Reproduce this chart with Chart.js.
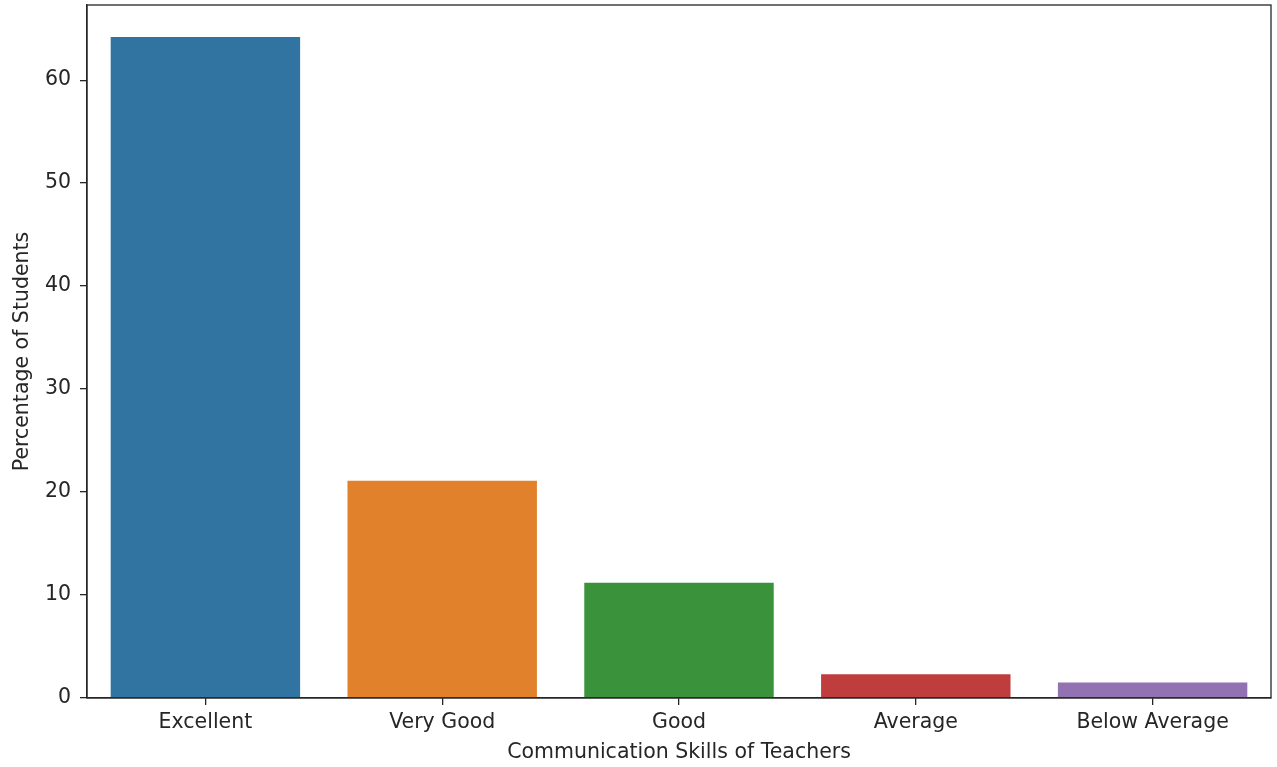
<!DOCTYPE html>
<html>
<head>
<meta charset="utf-8">
<script src="https://cdn.jsdelivr.net/npm/chart.js@4"></script>
<style>
  html, body { margin: 0; padding: 0; background: #fff; }
  #wrap { width: 1277px; height: 767px; position: relative; }
</style>
</head>
<body>
<div id="wrap"><canvas id="c"></canvas></div>
<script>
// communication skills survey -- percentage of students per rating
var categories = ['Excellent', 'Very Good', 'Good', 'Average', 'Below Average'];
var percentages = [64.2, 21.1, 11.2, 2.3, 1.5];
var barColors = ['#3274a1', '#e1812c', '#3a923a', '#c03d3e', '#9372b2'];
var yTicks = [0, 10, 20, 30, 40, 50, 60];

var FONT = "'DejaVu Sans', sans-serif";
var SIZE = 20.5;
var INK = '#262626';

// matplotlib-style box around the plot area
var frame = {
  id: 'frame',
  afterDraw: function (chart) {
    var a = chart.chartArea, ctx = chart.ctx;
    ctx.save();
    ctx.strokeStyle = INK;
    ctx.lineWidth = 1.3;
    ctx.strokeRect(a.left, a.top, a.right - a.left, a.bottom - a.top);
    ctx.restore();
  }
};

new Chart(document.getElementById('c'), {
  type: 'bar',
  data: {
    labels: categories,
    datasets: [{
      data: percentages,
      backgroundColor: barColors,
      borderWidth: 0,
      categoryPercentage: 1,
      barPercentage: 0.8
    }]
  },
  options: {
    responsive: true, maintainAspectRatio: false, animation: false,
    layout: { padding: { top: 5, right: 6, left: 0, bottom: 0 } },
    plugins: { legend: { display: false }, tooltip: { enabled: false } },
    scales: {
      x: {
        grid: { display: true, offset: false, drawOnChartArea: false, drawTicks: true, tickLength: 7, color: INK, lineWidth: 1.3 },
        border: { color: INK, width: 1.3 },
        ticks: { color: INK, padding: 5, font: { family: FONT, size: SIZE } },
        title: { display: true, text: 'Communication Skills of Teachers', color: INK, padding: { top: 0, bottom: 2 }, font: { family: FONT, size: SIZE } },
        afterFit: function (s) { s.height = 69; s.paddingLeft = 0; s.paddingRight = 0; }
      },
      y: {
        min: 0, max: 67.3,
        afterBuildTicks: function (s) { s.ticks = yTicks.map(function (v) { return { value: v }; }); },
        grid: { display: true, drawOnChartArea: false, drawTicks: true, tickLength: 7, color: INK, lineWidth: 1.3 },
        border: { color: INK, width: 1.3 },
        ticks: { color: INK, padding: 9, font: { family: FONT, size: SIZE } },
        title: { display: true, text: 'Percentage of Students', color: INK, padding: { top: 10, bottom: 4 }, font: { family: FONT, size: SIZE } },
        afterFit: function (s) { s.width = 87; s.paddingTop = 0; s.paddingBottom = 0; }
      }
    }
  },
  plugins: [frame]
});
</script>
</body>
</html>
